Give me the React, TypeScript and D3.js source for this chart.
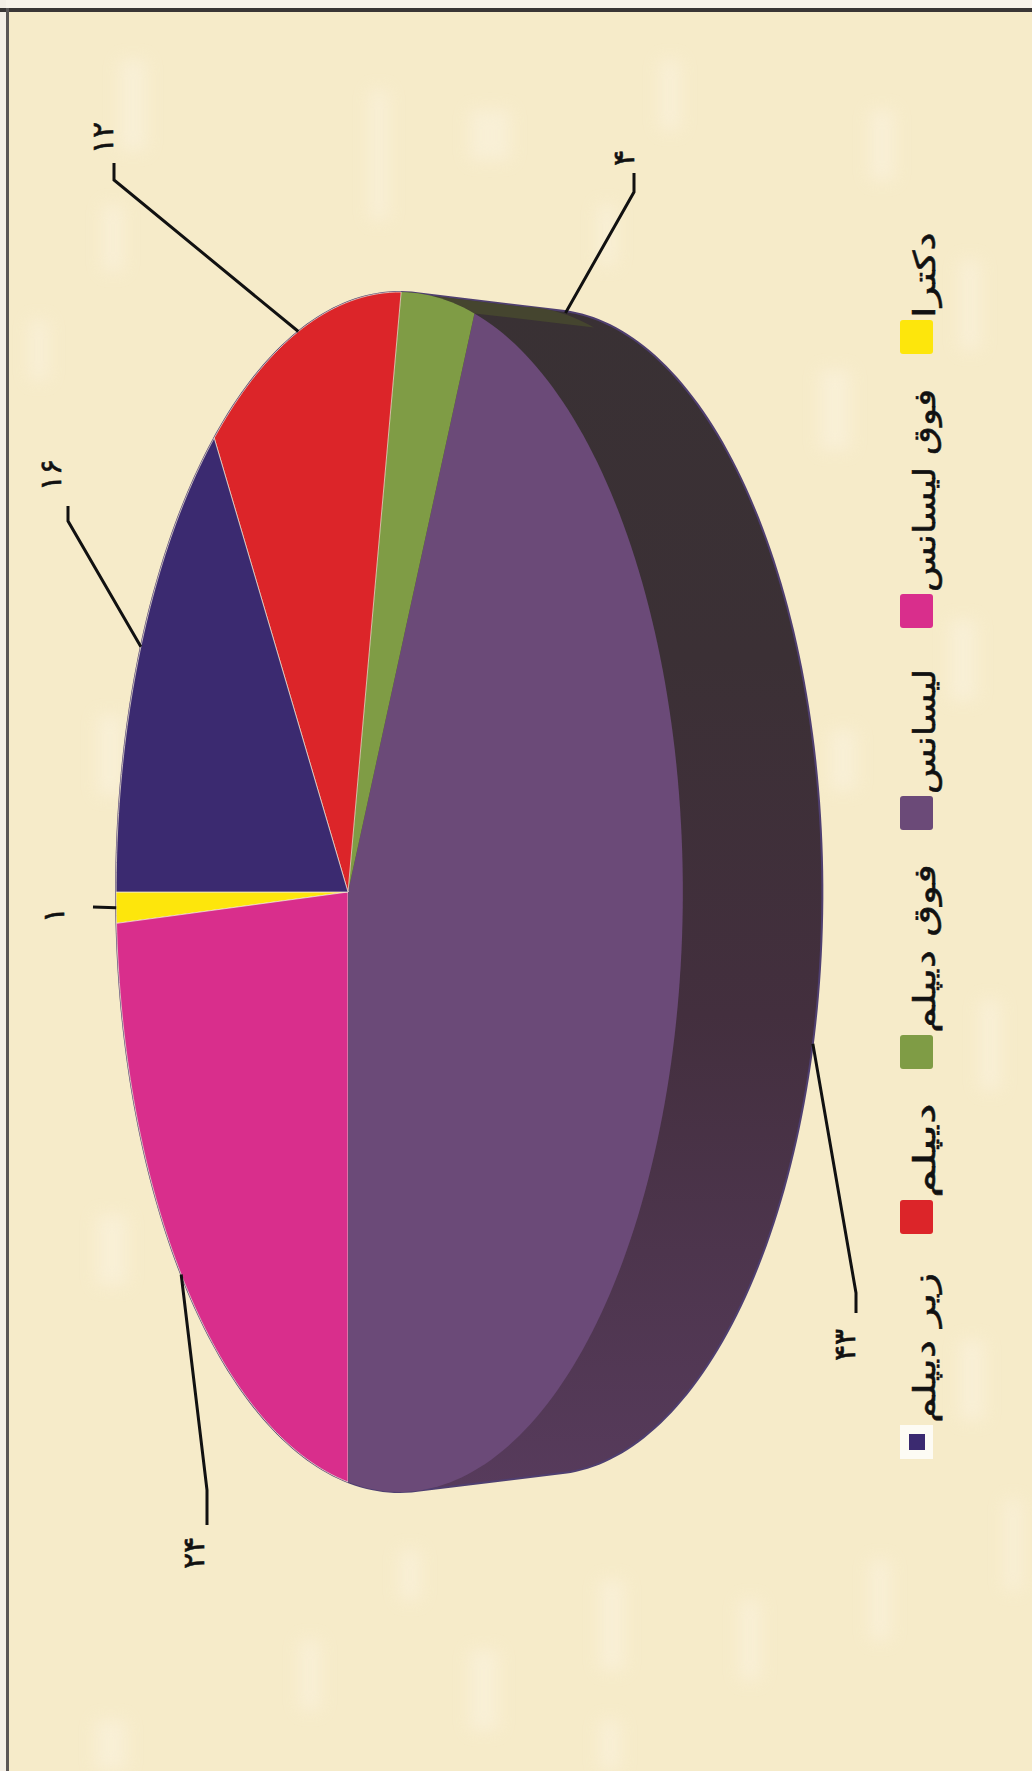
import React from "react";
import * as d3 from "d3";

const W = 1032;
const H = 1771;

// chart data, in the order the slices run round the pie
const categories = ["دکترا", "فوق لیسانس", "لیسانس", "فوق دیپلم", "دیپلم", "زیر دیپلم"];
const values = [1, 24, 43, 4, 12, 16];
const valueLabels = ["۱", "۲۴", "۴۳", "۴", "۱۲", "۱۶"];
const colors = ["#fde60c", "#d92e8c", "#6b4a78", "#7f9c45", "#dc2529", "#3b2a70"];

// the whole picture is a 3D pie lying on its side, so x is depth and y is width
const center = { x: 400, y: 890 };
const vertex = { x: 348, y: 892 };
const tilt = -0.1817;
const radiusX = 274;
const radiusY = 590;
const wallShift = 148;
const wallScale = 0.97;

const project = (theta: number, depth = 0) => {
  const u = -Math.cos(theta);
  const v = Math.sin(theta);
  const w = 1 + tilt * u;
  const x = vertex.x + (radiusX * u) / w;
  const y = vertex.y + (radiusY * v) / w;
  const s = 1 + (wallScale - 1) * depth;
  return [center.x + (x - center.x) * s + wallShift * depth, center.y + (y - center.y) * s] as [number, number];
};

const arcPoints = (a0: number, a1: number, depth = 0) => {
  const n = Math.max(4, Math.ceil((a1 - a0) / 0.02));
  return d3.range(n + 1).map((i) => project(a0 + ((a1 - a0) * i) / n, depth));
};

const pie = d3.pie<number>().sort(null).value((d) => d);
const slices = pie(values);
const line = d3.line();

const hull = d3.polygonHull([...arcPoints(0, Math.PI * 2), ...arcPoints(0, Math.PI * 2, 1)]) as [number, number][];

const swatchCenters = [337, 611, 813, 1052, 1217, 1442];
// printed length of each legend text along the page
const legendLengths = [86, 203, 125, 169, 95, 150];

// depth along the wall where each leader leaves the pie, then its elbow and label
const leaders = [
  { i: 0, depth: 0, path: [[93, 907]], label: [53, 915] },
  { i: 1, depth: 0, path: [[207, 1490], [207, 1525]], label: [193, 1553] },
  { i: 2, depth: 1, path: [[856, 1293], [856, 1313]], label: [844, 1345] },
  { i: 3, depth: 0.87, path: [[634, 192], [634, 173]], label: [623, 158] },
  { i: 4, depth: 0, path: [[114, 180], [114, 163]], label: [102, 138] },
  { i: 5, depth: 0, path: [[68, 521], [68, 506]], label: [50, 475] },
];

// pale patches in the paper texture
const streaks = [
  [103, 205, 20, 66], [120, 60, 26, 90], [98, 715, 24, 80], [97, 1215, 30, 70], [96, 1720, 30, 50],
  [370, 90, 18, 130], [598, 205, 18, 60], [470, 110, 40, 50], [660, 60, 20, 70], [820, 370, 30, 80],
  [830, 730, 26, 60], [870, 110, 24, 70], [960, 260, 20, 90], [950, 620, 26, 80], [980, 1000, 20, 90],
  [960, 1340, 24, 80], [600, 1580, 24, 90], [470, 1650, 28, 80], [600, 1720, 20, 50], [300, 1640, 20, 70],
  [400, 1550, 20, 50], [740, 1600, 20, 80], [870, 1560, 20, 80], [1005, 1500, 16, 90], [30, 320, 18, 60],
];

export default function App() {
  const wallY = d3.scaleLinear().domain([0, 1]).range([300, 1490]);
  const green = slices[3];
  const greenWall = [...arcPoints(green.startAngle, green.endAngle), ...arcPoints(green.startAngle, green.endAngle, 0.82).reverse()];
  return (
    <svg width={W} height={H} style={{ position: "absolute", left: 0, top: 0 }}>
      <defs>
        <linearGradient id="wall" gradientUnits="userSpaceOnUse" x1={0} x2={0} y1={wallY(0)} y2={wallY(1)}>
          <stop offset="0" stopColor="#393134" />
          <stop offset="0.3" stopColor="#3b3035" />
          <stop offset="0.6" stopColor="#432f3e" />
          <stop offset="1" stopColor="#573b5c" />
        </linearGradient>
        <filter id="soft" x="-60%" y="-60%" width="220%" height="220%">
          <feGaussianBlur stdDeviation="8" />
        </filter>
      </defs>

      <rect width={W} height={H} fill="#f6ebc9" />
      <g filter="url(#soft)" fill="#fbf3df" opacity={0.6}>
        {streaks.map(([x, y, w, h], i) => (
          <rect key={i} x={x} y={y} width={w} height={h} />
        ))}
      </g>
      <rect width={W} height={8} fill="#f8f3ea" />
      <rect width={6} height={H} fill="#f4efe6" />
      <rect x={0} y={8} width={W} height={4} fill="#3a3636" />
      <rect x={6} y={8} width={3} height={H} fill="#5a5656" />

      {/* side wall */}
      <path d={line(hull) + "Z"} fill="url(#wall)" stroke="#4f3f70" strokeWidth={2} />
      <path d={line(greenWall) + "Z"} fill="#45452f" />

      {/* top face */}
      {slices.map((s, i) => (
        <path
          key={i}
          d={line([[vertex.x, vertex.y], ...arcPoints(s.startAngle, s.endAngle)]) + "Z"}
          fill={colors[i]}
          stroke="#f7ecd8"
          strokeOpacity={i === 2 || i === 3 ? 0 : 0.7}
          strokeWidth={1}
        />
      ))}

      {/* leaders and values */}
      {leaders.map((l) => {
        const s = slices[l.i];
        const start = project((s.startAngle + s.endAngle) / 2, l.depth);
        return (
          <g key={l.i}>
            <path d={line([start, ...(l.path as [number, number][])]) as string} fill="none" stroke="#111" strokeWidth={3} />
            <text
              transform={`translate(${l.label[0]},${l.label[1]}) rotate(-90)`}
              textAnchor="middle"
              dominantBaseline="central"
              fontFamily="DejaVu Sans"
              fontSize={30}
              stroke="#111"
              strokeWidth={0.6}
              fill="#111"
            >
              {valueLabels[l.i]}
            </text>
          </g>
        );
      })}

      {/* legend */}
      {categories.map((c, i) => (
        <g key={c}>
          {i === 5 ? (
            <>
              <rect x={900} y={swatchCenters[i] - 17} width={33} height={34} fill="#fdfbf4" />
              <rect x={909} y={swatchCenters[i] - 8} width={16} height={16} fill={colors[i]} />
            </>
          ) : (
            <rect x={900} y={swatchCenters[i] - 17} width={33} height={34} rx={3} fill={colors[i]} />
          )}
          <text
            transform={`translate(924,${swatchCenters[i] - 19}) rotate(-90)`}
            textAnchor="start"
            dominantBaseline="central"
            fontFamily="DejaVu Sans"
            fontSize={30}
            textLength={legendLengths[i]}
            lengthAdjust="spacingAndGlyphs"
            stroke="#111"
            strokeWidth={0.5}
            fill="#111"
          >
            {c}
          </text>
        </g>
      ))}
    </svg>
  );
}
